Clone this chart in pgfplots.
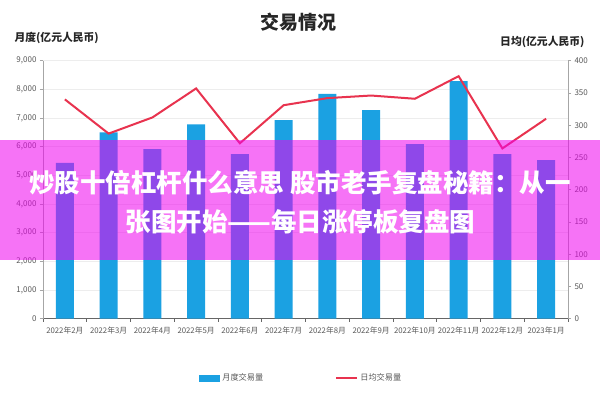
\documentclass[border=0pt]{standalone}
\usepackage{fontspec}
\setmainfont{Noto Sans CJK SC}
\usepackage{pgfplots}
\pgfplotsset{compat=1.18}
\definecolor{barblue}{HTML}{1BA1E2}
\definecolor{linered}{HTML}{E8334F}
\definecolor{ticktext}{HTML}{595959}
\definecolor{gridc}{HTML}{EDEDED}
\definecolor{axisc}{HTML}{A6A6A6}
\definecolor{pinkov}{HTML}{F000F0}
\begin{document}
\begin{tikzpicture}[x=1pt,y=1pt]
\useasboundingbox (0,0) rectangle (600,400);
\fill[white] (0,0) rectangle (600,400);
\begin{axis}[
  at={(43pt,81.3pt)}, anchor=south west, scale only axis,
  width=525pt, height=258pt,
  xmin=-0.5, xmax=11.5, ymin=0, ymax=9000,
  axis y line*=left, axis x line*=bottom,
  xtick={-0.5,0.5,...,11.5},
  x tick label as interval,
  xticklabels={2022年2月,2022年3月,2022年4月,2022年5月,2022年6月,2022年7月,2022年8月,2022年9月,2022年10月,2022年11月,2022年12月,2023年1月},
  ytick={0,1000,...,9000},
  tick align=outside, major tick length=3pt,
  ymajorgrids, grid style={gridc, line width=0.6pt},
  y axis line style={axisc, line width=0.6pt},
  x axis line style={draw=black!60, line width=0.8pt},
  tick style={axisc, line width=0.6pt},
  x tick style={black!60},
  ticklabel style={font=\fontsize{8}{9}\selectfont, text=ticktext},
  xticklabel style={font=\fontsize{7.8}{9}\selectfont, text=ticktext, yshift=-2pt},
  /pgf/number format/.cd, 1000 sep={,}, assume math mode=true,
  /pgfplots/.cd,
  legend columns=2,
  legend style={draw=none, fill=none, at={(0.492,-0.23)}, anchor=center,
    font=\fontsize{8.2}{9}\selectfont, text=ticktext,
    /tikz/every even column/.append style={column sep=70pt}},
]
\addplot[ybar, bar width=18pt, fill=barblue, draw=none,
  legend image code/.code={\fill[barblue] (0pt,-3.5pt) rectangle (21pt,3.5pt);}]
  coordinates {(0,5440) (1,6500) (2,5920) (3,6780) (4,5740) (5,6930) (6,7840) (7,7280) (8,6090) (9,8290) (10,5740) (11,5530)};
\addlegendentry{月度交易量}
\addlegendimage{legend image code/.code={\draw[linered, line width=2pt] (0pt,0pt) -- (21pt,0pt);}}
\addlegendentry{日均交易量}
\end{axis}
\begin{axis}[
  at={(43pt,81.3pt)}, anchor=south west, scale only axis,
  width=525pt, height=258pt,
  xmin=-0.5, xmax=11.5, ymin=0, ymax=400,
  axis y line*=right, axis x line=none,
  ytick={0,50,...,400},
  tick align=outside, major tick length=3pt,
  y axis line style={axisc, line width=0.6pt},
  tick style={axisc, line width=0.6pt},
  ticklabel style={font=\fontsize{8}{9}\selectfont, text=ticktext},
  /pgf/number format/assume math mode=true,
]
\addplot[linered, line width=2pt, mark=none]
  coordinates {(0,340) (1,287) (2,312) (3,357) (4,272) (5,331) (6,342) (7,346) (8,341) (9,376) (10,264) (11,310)};
\end{axis}
\node[font=\fontsize{19}{22}\selectfont\bfseries, text=black!85] at (298,378) {交易情况};
\node[font=\fontsize{10.8}{12}\selectfont\bfseries, text=black!85, anchor=west] at (11,362.3) {月度(亿元人民币)};
\node[font=\fontsize{10.8}{12}\selectfont\bfseries, text=black!85, anchor=east] at (588,358.3) {日均(亿元人民币)};
\fill[pinkov, opacity=0.55] (0,140) rectangle (600,260.5);
\node[font=\fontsize{25.5}{30}\selectfont\bfseries, text=white] at (300,217.5) {炒股十倍杠杆什么意思 股市老手复盘秘籍：从一};
\node[font=\fontsize{25.5}{30}\selectfont\bfseries, text=white] at (300.5,178.3) {张图开始——每日涨停板复盘图};
\end{tikzpicture}
\end{document}
